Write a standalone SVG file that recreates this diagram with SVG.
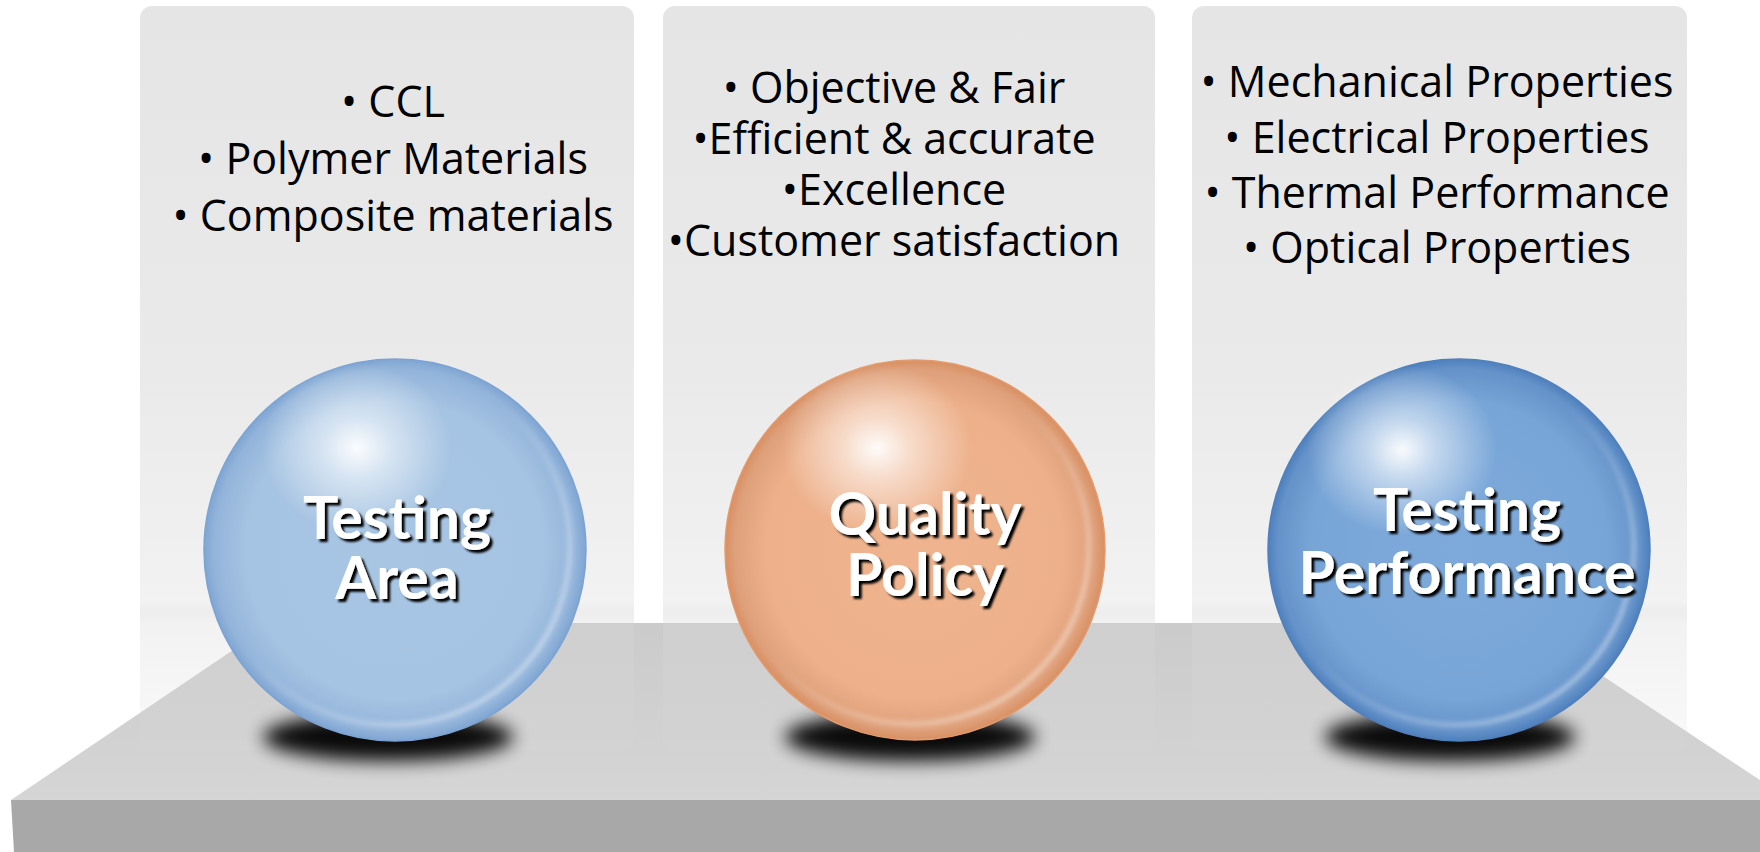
<svg xmlns="http://www.w3.org/2000/svg" width="1760" height="852" viewBox="0 0 1760 852">
<style>
.bul{font-family:"Open Sans","Noto Sans","DejaVu Sans",sans-serif;font-size:43px;fill:#000;text-anchor:middle}
.lbl{font-family:Lato,"Open Sans",sans-serif;font-weight:700;font-size:59px;fill:#fff;text-anchor:middle;filter:url(#ts)}
</style>
<defs>
<linearGradient id="top" x1="0" y1="623" x2="0" y2="800" gradientUnits="userSpaceOnUse">
<stop offset="0" stop-color="#cbcbcb"/><stop offset="1" stop-color="#d5d5d5"/>
</linearGradient>
<linearGradient id="panel" x1="0" y1="6" x2="0" y2="751" gradientUnits="userSpaceOnUse">
<stop offset="0" stop-color="#e5e5e5"/>
<stop offset="0.5" stop-color="#eaeaea"/>
<stop offset="0.8" stop-color="#f2f2f2"/>
<stop offset="0.828" stop-color="#d8d8d8" stop-opacity="0.33"/>
<stop offset="1" stop-color="#d8d8d8" stop-opacity="0.15"/>
</linearGradient>
<radialGradient id="sBlue1" cx="0.5" cy="0.5" r="0.5">
<stop offset="0" stop-color="#a8c6e4"/><stop offset="0.78" stop-color="#a5c3e2"/>
<stop offset="0.95" stop-color="#93b4da"/><stop offset="1" stop-color="#7ea5d2"/>
</radialGradient>
<radialGradient id="sOrange" cx="0.5" cy="0.5" r="0.5">
<stop offset="0" stop-color="#efb48f"/><stop offset="0.78" stop-color="#edb08a"/>
<stop offset="0.95" stop-color="#dea07a"/><stop offset="1" stop-color="#d98f62"/>
</radialGradient>
<radialGradient id="sBlue2" cx="0.5" cy="0.5" r="0.5">
<stop offset="0" stop-color="#7eaadb"/><stop offset="0.78" stop-color="#78a5d7"/>
<stop offset="0.95" stop-color="#6492c9"/><stop offset="1" stop-color="#4f80bd"/>
</radialGradient>
<radialGradient id="hl" cx="0.5" cy="0.5" r="0.5">
<stop offset="0" stop-color="#fff" stop-opacity="0.95"/>
<stop offset="0.35" stop-color="#fff" stop-opacity="0.55"/>
<stop offset="1" stop-color="#fff" stop-opacity="0"/>
</radialGradient>
<linearGradient id="rim" x1="0" y1="0" x2="1" y2="1">
<stop offset="0.45" stop-color="#fff" stop-opacity="0"/>
<stop offset="0.85" stop-color="#fff" stop-opacity="0.35"/>
<stop offset="1" stop-color="#fff" stop-opacity="0.1"/>
</linearGradient>
<filter id="blur" x="-50%" y="-100%" width="200%" height="300%"><feGaussianBlur stdDeviation="9"/></filter>
<filter id="soft" x="-20%" y="-20%" width="140%" height="140%"><feGaussianBlur stdDeviation="2"/></filter>
<filter id="ts" x="-10%" y="-20%" width="130%" height="150%"><feDropShadow dx="3" dy="3" stdDeviation="0.8" flood-color="#000" flood-opacity="1"/></filter>
</defs>
<rect width="1760" height="852" fill="#fff"/>
<g id="platform">
<polygon points="11,800 273,623 1523,623 1790,800" fill="url(#top)"/>
<polygon points="11,800 1790,800 1790,852 14,852" fill="#a8a8a8"/>
</g>
<g id="panels">
<rect x="140" y="6" width="494" height="745" rx="12" fill="url(#panel)"/>
<rect x="663" y="6" width="492" height="745" rx="12" fill="url(#panel)"/>
<rect x="1192" y="6" width="495" height="745" rx="12" fill="url(#panel)"/>
</g>
<g id="panel-text-1">
<text class="bul" x="393" y="117">• CCL</text>
<text class="bul" x="393" y="174">• Polymer Materials</text>
<text class="bul" x="393" y="231">• Composite materials</text>
</g>
<g id="panel-text-2">
<text class="bul" x="894" y="103">• Objective &amp; Fair</text>
<text class="bul" x="894" y="154">•Efficient &amp; accurate</text>
<text class="bul" x="894" y="205">•Excellence</text>
<text class="bul" x="894" y="256">•Customer satisfaction</text>
</g>
<g id="panel-text-3">
<text class="bul" x="1437" y="97">• Mechanical Properties</text>
<text class="bul" x="1437" y="153">• Electrical Properties</text>
<text class="bul" x="1437" y="208">• Thermal Performance</text>
<text class="bul" x="1437" y="263">• Optical Properties</text>
</g>
<g id="connectors"></g>
<g id="sphere-testing-area">
<ellipse cx="388" cy="737" rx="125" ry="24" fill="#000" opacity="0.95" filter="url(#blur)"/>
<circle cx="395" cy="550" r="191" fill="url(#sBlue1)" stroke="#7ca3d3" stroke-width="1.5"/>
<circle cx="392" cy="547" r="178" fill="none" stroke="url(#rim)" stroke-width="6" filter="url(#soft)"/>
<ellipse cx="357" cy="448" rx="95" ry="85" fill="url(#hl)"/>
<text class="lbl" x="397" y="539">Testing</text>
<text class="lbl" x="397" y="599">Area</text>
</g>
<g id="sphere-quality-policy">
<ellipse cx="910" cy="737" rx="125" ry="24" fill="#000" opacity="0.95" filter="url(#blur)"/>
<circle cx="915" cy="550" r="190" fill="url(#sOrange)" stroke="#e39a6c" stroke-width="1.5"/>
<circle cx="912" cy="547" r="177" fill="none" stroke="url(#rim)" stroke-width="6" filter="url(#soft)"/>
<ellipse cx="877" cy="448" rx="95" ry="85" fill="url(#hl)"/>
<text class="lbl" x="925" y="535">Quality</text>
<text class="lbl" x="925" y="596">Policy</text>
</g>
<g id="sphere-testing-performance">
<ellipse cx="1450" cy="737" rx="125" ry="24" fill="#000" opacity="0.95" filter="url(#blur)"/>
<circle cx="1459" cy="550" r="191" fill="url(#sBlue2)" stroke="#4f80bd" stroke-width="1.5"/>
<circle cx="1456" cy="547" r="178" fill="none" stroke="url(#rim)" stroke-width="6" filter="url(#soft)"/>
<ellipse cx="1402" cy="450" rx="95" ry="85" fill="url(#hl)"/>
<text class="lbl" x="1467" y="531">Testing</text>
<text class="lbl" x="1467" y="594">Performance</text>
</g>
</svg>
